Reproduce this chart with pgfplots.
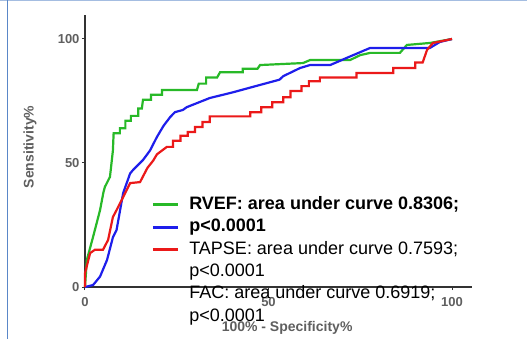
\documentclass[border=0pt]{standalone}
\usepackage{pgfplots}
\pgfplotsset{compat=1.18}
\usepackage{fontspec}
\setmainfont{Liberation Sans}
\definecolor{rgreen}{RGB}{40,185,40}
\definecolor{rblue}{RGB}{30,30,235}
\definecolor{rred}{RGB}{235,25,25}
\definecolor{framebl}{RGB}{90,135,200}
\definecolor{lblgray}{RGB}{95,95,95}
\begin{document}
\begin{tikzpicture}
\path[use as bounding box] (-85bp,-52bp) rectangle (442bp,287bp);
\draw[framebl!55, line width=1.5bp] (-85bp,286.25bp) -- (442bp,286.25bp);
\draw[framebl, line width=1.5bp] (-77.5bp,-52bp) -- (-77.5bp,287bp);
\begin{axis}[
  at={(0,0)}, anchor=south west,
  x=3.67bp, y=2.48bp,
  xmin=0, xmax=105.5, ymin=0, ymax=109.7,
  axis lines*=left,
  axis line style={line width=1.8bp, black!80},
  clip=false,
  xtick={0,50,100}, ytick={0,50,100},
  tick align=outside, major tick length=3bp,
  tick style={black!80, line width=1bp},
  /pgf/number format/assume math mode=true,
  ticklabel style={font=\bfseries\fontsize{13bp}{13bp}\selectfont, text=lblgray},
  xticklabel style={yshift=-4bp},
  yticklabel style={xshift=1bp},
  xlabel={100\% - Specificity\%},
  ylabel={Sensitivity\%},
  label style={font=\bfseries\fontsize{14bp}{14bp}\selectfont, text=lblgray},
  ylabel style={at={(rel axis cs:-0.142,0.515)}, anchor=center},
  xlabel style={at={(rel axis cs:0.522,-0.151)}, anchor=center},
  legend style={at={(axis cs:17.2,38.5)}, anchor=north west, draw=none, fill=none,
    font=\fontsize{18bp}{22bp}\selectfont,
    nodes={inner sep=0pt, text height=15.5bp, text depth=6.9bp},
    row sep=0pt,
    /tikz/every odd column/.append style={column sep=10bp}},
  legend cell align=left,
  legend image code/.code={\draw[#1, line width=3bp] (0bp,0bp) -- (25bp,0bp);},
]
\addplot[rgreen, line width=2.2bp] coordinates {
(0,0) (0.5,10.9) (2.2,20.2) (4.1,31) (5,38) (5.4,40.3) (6.8,44.4) (7.3,51) (7.6,55) (7.8,62)
(9.5,62) (9.5,64) (11,64) (11,67) (12.5,67) (12.5,69) (14.5,69) (14.5,72) (15.5,72) (15.8,75.5)
(18,75.5) (18,77.5) (21,77.5) (21,79.4) (30.5,79.4) (31,82) (33,82) (33,84.5) (36,84.5) (36.8,86.6)
(43,86.6) (43,88) (47,88) (47.7,89.5) (59.4,90.3) (61.3,91.5) (72.2,91.5) (75,93.5) (77.7,94.4)
(85.8,94.4) (87.7,97.6) (94,98.4) (100,100)};
\addlegendentry{\textbf{RVEF: area under curve 0.8306;}}
\addplot[rblue, line width=2.2bp] coordinates {
(0,0) (2.2,0.8) (4.1,4.2) (6,10.9) (7.6,20) (8.6,23) (10.4,37.9) (12.3,45.8) (13.1,47.2) (15,50)
(15.8,51.2) (17.7,55) (19.6,60.5) (21.4,65) (23.2,68.5) (24.5,70.5) (26.7,71.4) (27.7,72.5)
(34,76.2) (40.3,78.5) (46,80.8) (53,83.6) (54,85) (58.6,88.3) (61.3,89.5) (66.8,89.5) (72.3,93)
(77.7,96.4) (94,96.4) (96.7,98.8) (100,100)};
\addlegendentry{\textbf{p<0.0001}}
\addplot[rred, line width=2.2bp] coordinates {
(0,0) (0,5.6) (1.4,13.7) (2.7,15) (4.9,15) (6.3,19) (7.6,28.2) (8.6,31) (10.4,36.3) (12.3,41.9)
(15,42.3) (16.3,46) (17,48) (18.6,51) (19.6,53.5) (22.3,56.5) (24,56.5) (24,59) (26,59) (26,61)
(28,61) (28,62.5) (30,62.5) (30,64.5) (32,64.5) (32,66.5) (34,66.5) (34,68.8) (45,68.8) (45,70.5)
(48,70.5) (48,72.5) (51,72.5) (51,74.5) (54,74.5) (54,76.5) (56,76.5) (56,79) (59,79) (59,81)
(61,81) (61,83) (64,83) (64,84.5) (74,84.5) (74,86.3) (84,86.3) (84,88.3) (90,88.3) (90,90.5)
(92,90.5) (93.2,95.6) (94.8,98.4) (100,100)};
\addlegendentry{TAPSE: area under curve 0.7593;}
\addlegendimage{empty legend}
\addlegendentry{p<0.0001}
\addlegendimage{empty legend}
\addlegendentry{FAC: area under curve 0.6919;}
\addlegendimage{empty legend}
\addlegendentry{p<0.0001}
\end{axis}
\end{tikzpicture}
\end{document}
